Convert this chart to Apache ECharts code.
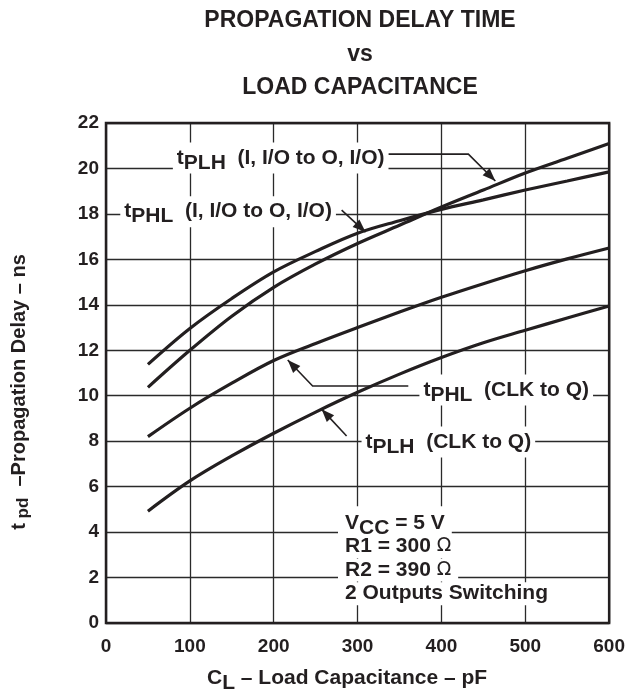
<!DOCTYPE html>
<html><head><meta charset="utf-8">
<script src="https://cdn.jsdelivr.net/npm/echarts@6/dist/echarts.min.js"></script>
<style>html,body{margin:0;padding:0;background:#fff}#c{width:628px;height:689px}</style>
</head><body><div id="c"></div>
<script>
// ---- data ----
const capacitance = [50, 100, 150, 200, 250, 300, 350, 400, 450, 500, 550, 600];
const tPLH_IO  = [10.37, 12.0, 13.5, 14.77, 15.8, 16.7, 17.5, 18.3, 19.05, 19.8, 20.45, 21.1];
const tPHL_IO  = [11.38, 12.96, 14.28, 15.45, 16.35, 17.15, 17.7, 18.2, 18.62, 19.05, 19.45, 19.85];
const tPHL_CLK = [8.2, 9.45, 10.55, 11.55, 12.3, 13.0, 13.68, 14.33, 14.93, 15.5, 16.02, 16.5];
const tPLH_CLK = [4.92, 6.25, 7.35, 8.35, 9.28, 10.15, 10.95, 11.68, 12.33, 12.88, 13.42, 13.95];
const xTicks = [0, 100, 200, 300, 400, 500, 600];
const yTicks = [0, 2, 4, 6, 8, 10, 12, 14, 16, 18, 20, 22];

// ---- annotation anchors (data space) ----
const labelAnchors = [
  { text: '{m|t}{s|PLH}{m|  (I, I/O to O, I/O)}', at: [84.5, 20.46] },
  { text: '{m|t}{s|PHL}{m|  (I, I/O to O, I/O)}', at: [21.8, 18.1] },
  { text: '{m|t}{s|PHL}{m|  (CLK to Q)}', at: [378.5, 10.25] },
  { text: '{m|t}{s|PLH}{m|  (CLK to Q)}', at: [309.5, 7.96] }
];
const leaderPaths = [
  [[336.5, 20.63], [432.1, 20.63], [464.3, 19.45]],
  [[281, 18.17], [309.5, 17.2]],
  [[360.5, 10.43], [246.4, 10.43], [216.7, 11.57]],
  [[286.9, 8.23], [257.1, 9.41]]
];
const conditionLines = [
  '{m|V}{s|CC}{m| = 5 V}',
  '{m|R1 = 300 }{o|Ω}',
  '{m|R2 = 390 }{o|Ω}',
  '{m|2 Outputs Switching}'
];
const conditionAnchor = [285, 4.41];
const conditionStep = 1.04;

const FONT = '"Liberation Sans", Arial, Helvetica, sans-serif';
const INK = '#231f20';
const chart = echarts.init(document.getElementById('c'), null, { renderer: 'canvas' });

function curve(name, vals) {
  return {
    name, type: 'line', smooth: 0.35, showSymbol: false, silent: true, z: 3,
    data: capacitance.map((c, i) => [c, vals[i]]),
    lineStyle: { color: INK, width: 3.2 }
  };
}
const axisLabelStyle = { color: INK, fontFamily: FONT, fontWeight: 'bold', fontSize: 19 };
chart.setOption({
  animation: false,
  grid: { left: 106, top: 123, width: 504, height: 500, show: true, borderColor: INK, borderWidth: 2.5, z: 4 },
  xAxis: {
    type: 'value', min: xTicks[0], max: xTicks[xTicks.length - 1], interval: 100,
    axisLine: { show: false }, axisTick: { show: false },
    splitLine: { lineStyle: { color: '#2a2a2a', width: 1.3 } },
    axisLabel: Object.assign({ margin: 14 }, axisLabelStyle)
  },
  yAxis: {
    type: 'value', min: yTicks[0], max: yTicks[yTicks.length - 1], interval: 2,
    axisLine: { show: false }, axisTick: { show: false },
    splitLine: { lineStyle: { color: '#2a2a2a', width: 1.3 } },
    axisLabel: Object.assign({ margin: 7 }, axisLabelStyle)
  },
  series: [
    curve('tPLH (I, I/O to O, I/O)', tPLH_IO),
    curve('tPHL (I, I/O to O, I/O)', tPHL_IO),
    curve('tPHL (CLK to Q)', tPHL_CLK),
    curve('tPLH (CLK to Q)', tPLH_CLK)
  ]
});

const px = p => chart.convertToPixel({ gridIndex: 0 }, p);
const richMain = {
  m: { fontFamily: FONT, fontWeight: 'bold', fontSize: 21, fill: INK },
  s: { fontFamily: FONT, fontWeight: 'bold', fontSize: 21, fill: INK, padding: [10, 0, 0, 0] },
  o: { fontFamily: '"DejaVu Sans", "Liberation Sans", sans-serif', fontSize: 19, fill: INK }
};
const graphics = [];
// title
graphics.push({
  type: 'text', x: 360, y: 4, z: 10,
  style: {
    text: 'PROPAGATION DELAY TIME\nvs\nLOAD CAPACITANCE',
    font: 'bold 23px ' + FONT, fill: INK, lineHeight: 33.5,
    textAlign: 'center', textVerticalAlign: 'top'
  }
});
// x axis title
graphics.push({
  type: 'text', x: 207, y: 678, z: 10,
  style: {
    text: '{m|C}{s|L}{m| – Load Capacitance – pF}', rich: richMain,
    textAlign: 'left', textVerticalAlign: 'middle'
  }
});
// y axis title
graphics.push({
  type: 'text', x: 19, y: 392, rotation: Math.PI / 2, z: 10,
  style: {
    text: '{m|t}{s| pd}{m|  –Propagation Delay – ns}',
    rich: {
      m: { fontFamily: FONT, fontWeight: 'bold', fontSize: 20, fill: INK },
      s: { fontFamily: FONT, fontWeight: 'bold', fontSize: 17, fill: INK, padding: [9, 0, 0, 0] }
    },
    textAlign: 'center', textVerticalAlign: 'middle'
  }
});
// leader lines + arrowheads
function arrowHead(from, tip) {
  const dx = tip[0] - from[0], dy = tip[1] - from[1];
  const L = Math.hypot(dx, dy), ux = dx / L, uy = dy / L;
  const len = 13, hw = 5;
  const bx = tip[0] - ux * len, by = tip[1] - uy * len;
  return [tip, [bx - uy * hw, by + ux * hw], [bx + uy * hw, by - ux * hw]];
}
leaderPaths.forEach(path => {
  const pts = path.map(px);
  graphics.push({ type: 'polyline', z: 6, shape: { points: pts }, style: { stroke: INK, lineWidth: 1.6, fill: null } });
  const n = pts.length;
  graphics.push({ type: 'polygon', z: 6, shape: { points: arrowHead(pts[n - 2], pts[n - 1]) }, style: { fill: INK } });
});
// labels
labelAnchors.forEach(a => {
  const p = px(a.at);
  graphics.push({
    type: 'text', x: p[0] - 4, y: p[1], z: 8,
    style: {
      text: a.text, rich: richMain, backgroundColor: '#fff', padding: [0, 4, 0, 4],
      textAlign: 'left', textVerticalAlign: 'middle'
    }
  });
});
// test conditions
conditionLines.forEach((t, i) => {
  const p = px([conditionAnchor[0], conditionAnchor[1] - i * conditionStep]);
  graphics.push({
    type: 'text', x: p[0] - 7, y: p[1], z: 8,
    style: {
      text: t, rich: richMain, backgroundColor: '#fff', padding: [1, 7, 1, 7],
      textAlign: 'left', textVerticalAlign: 'middle'
    }
  });
});
chart.setOption({ graphic: graphics });
</script>
</body></html>
